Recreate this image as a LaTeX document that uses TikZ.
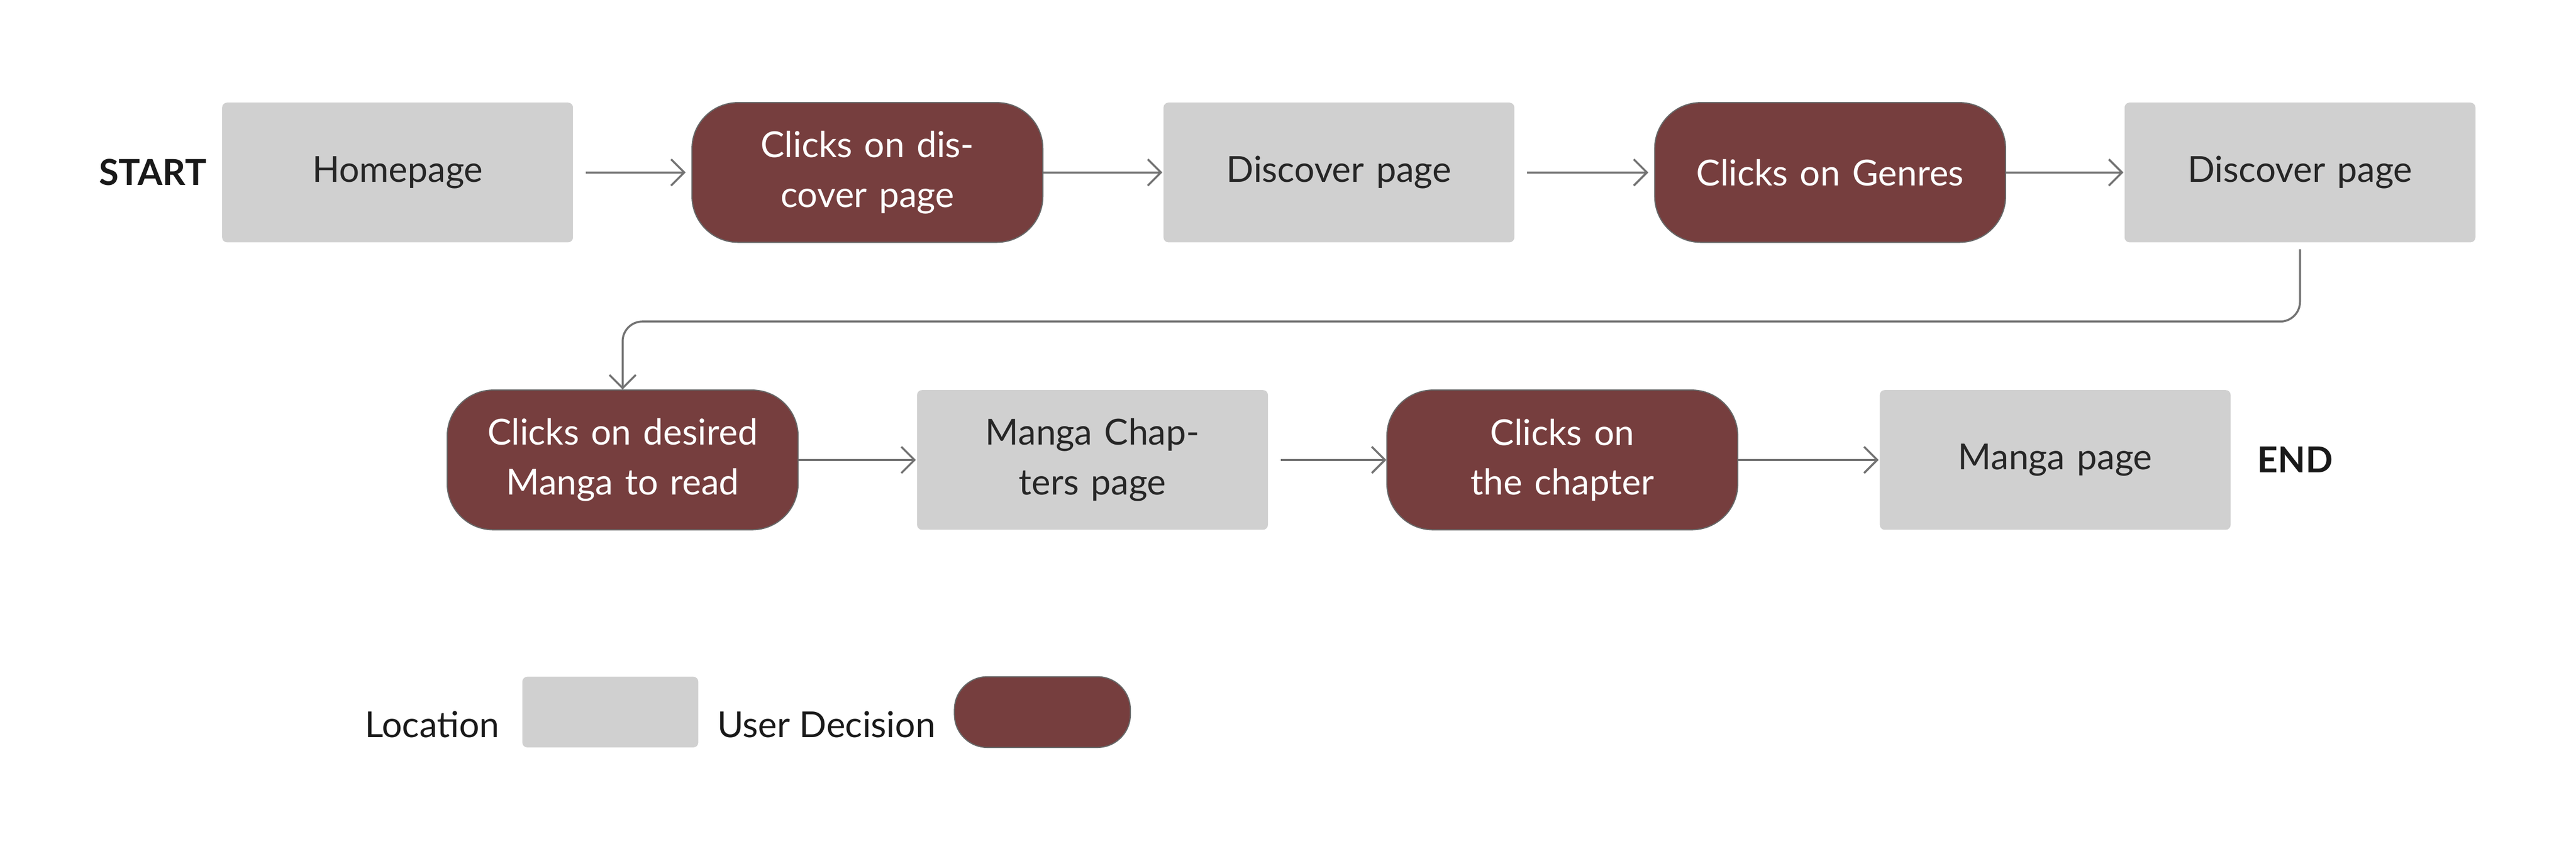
\documentclass[tikz,border=0pt]{standalone}
\usepackage{fontspec}
\setmainfont{Lato}
\usetikzlibrary{arrows.meta}
\definecolor{locgray}{HTML}{D0D0D0}
\definecolor{maroon}{HTML}{763E3E}
\tikzset{
  loc/.style={fill=locgray, draw=none, rounded corners=0.3mm, minimum width=2.09cm, minimum height=0.85cm, text width=1.9cm, align=center, font=\fontsize{6.2}{8.6}\selectfont, text=black!85},
  dec/.style={fill=maroon, draw=black!60, line width=0.2pt, rounded corners=2.8mm, minimum width=2.09cm, minimum height=0.85cm, text width=1.9cm, align=center, font=\fontsize{6.2}{8.6}\selectfont, text=white},
  flow/.style={draw=black!55, line width=0.35pt, -{Straight Barb[length=0.8mm, width=1.6mm]}},
  tag/.style={font=\bfseries\fontsize{6.2}{8}\selectfont, text=black!90},
  lbl/.style={font=\fontsize{6.2}{8}\selectfont, text=black!90}
}
\begin{document}
\begin{tikzpicture}[x=0.01cm, y=0.01cm]
\useasboundingbox (0,0) rectangle (1568,518);
% first row
\node[tag] (start) at (93,413) {START};
\node[loc] (home) at (242,413) {Homepage};
\node[dec] (disc) at (528,413) {Clicks on discover page};
\node[loc] (dpage) at (815,413) {Discover page};
\node[dec] (genre) at (1114,413) {Clicks on Genres};
\node[loc] (dpage2) at (1400,413) {Discover page};
% second row
\node[dec] (want) at (379,238) {Clicks on desired Manga to read};
\node[loc] (chaps) at (665,238) {Manga Chapters page};
\node[dec] (chap) at (951,238) {Clicks on the chapter};
\node[loc] (manga) at (1251,238) {Manga page};
\node[tag] (end) at (1397,238) {END};
% legend
\node[lbl] (loclbl) at (263,77) {Location};
\node[fill=locgray, rounded corners=0.3mm, minimum width=1.07cm, minimum height=0.43cm] (lockey) at (371.5,84.5) {};
\node[lbl] (declbl) at (503,77) {User Decision};
\node[fill=maroon, draw=black!60, line width=0.2pt, rounded corners=2mm, minimum width=1.07cm, minimum height=0.43cm] (deckey) at (634.5,84.5) {};
% connectors
\draw[flow] ([xshift=2pt]home.east) -- ([xshift=-1pt]disc.west);
\draw[flow] (disc.east) -- (dpage.west);
\draw[flow] ([xshift=2pt]dpage.east) -- ([xshift=-1pt]genre.west);
\draw[flow] (genre.east) -- (dpage2.west);
\draw[flow, rounded corners=1.2mm] ([yshift=-1pt]dpage2.south) -- ++(0,-44) -| (want.north);
\draw[flow] (want.east) -- (chaps.west);
\draw[flow] ([xshift=2pt]chaps.east) -- (chap.west);
\draw[flow] (chap.east) -- (manga.west);
\end{tikzpicture}
\end{document}
